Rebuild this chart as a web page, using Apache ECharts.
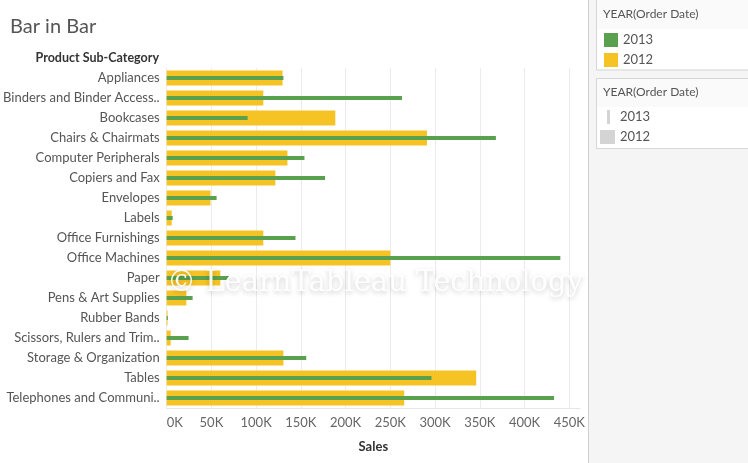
<!DOCTYPE html>
<html>
<head>
<meta charset="utf-8">
<script src="https://cdn.jsdelivr.net/npm/echarts@6/dist/echarts.min.js"></script>
<style>
  html, body { margin: 0; padding: 0; background: #fff; }
  #chart { width: 748px; height: 463px; }
</style>
</head>
<body>
<div id="chart"></div>
<script>
// data
const categories = [
  'Appliances', 'Binders and Binder Access..', 'Bookcases', 'Chairs & Chairmats',
  'Computer Peripherals', 'Copiers and Fax', 'Envelopes', 'Labels',
  'Office Furnishings', 'Office Machines', 'Paper', 'Pens & Art Supplies',
  'Rubber Bands', 'Scissors, Rulers and Trim..', 'Storage & Organization',
  'Tables', 'Telephones and Communi..'
]
const sales2012 = [129500, 108000, 188500, 291000, 135000, 121500, 49000, 5600,
  108000, 250000, 60000, 22000, 1000, 4500, 130500, 346000, 265500]
const sales2013 = [130500, 263000, 90500, 368000, 154000, 177000, 55800, 6700,
  144000, 440000, 70000, 29000, 1300, 24500, 156000, 296000, 433000]
const tickStep = 50000

const FONT = 'Lato'
const GREEN = '#59a14f'
const YELLOW = '#f6c324'

const chart = echarts.init(document.getElementById('chart'))

let option = {
  animation: false,
  textStyle: {fontFamily: FONT},
  title: {
    text: 'Bar in Bar',
    left: 5,
    top: 12,
    textStyle: {fontFamily: FONT, fontSize: 20, fontWeight: 'normal', color: '#555'}
  },
  legend: {
    data: ['2013', '2012'],
    orient: 'vertical',
    left: 599,
    top: 28,
    icon: 'rect',
    itemWidth: 14,
    itemHeight: 14,
    itemGap: 6,
    textStyle: {fontFamily: FONT, fontSize: 13, color: '#555'},
    selectedMode: false
  },
  grid: {left: 166, right: 168, top: 68, bottom: 55, containLabel: false},
  xAxis: {
    type: 'value',
    min: 0,
    max: 462000,
    interval: tickStep,
    name: 'Sales',
    nameLocation: 'middle',
    nameGap: 32,
    nameTextStyle: {fontFamily: FONT, fontSize: 13, fontWeight: 'bold', color: '#333'},
    axisLine: {show: true, lineStyle: {color: '#e6e6e6'}},
    axisTick: {show: false},
    axisLabel: {
      color: '#666',
      fontSize: 13,
      margin: 8,
      showMaxLabel: false,
      alignMinLabel: 'left',
      formatter: v => (v / 1000) + 'K'
    },
    splitLine: {show: true, showMaxLine: false, lineStyle: {color: '#ececec', width: 1}}
  },
  yAxis: [
    {
      type: 'category',
      data: categories,
      inverse: true,
      axisLine: {show: false},
      axisTick: {show: false},
      axisLabel: {color: '#555', fontSize: 13, margin: 7}
    },
    {
      // hidden twin axis so the thin bar sits centred inside the wide one
      type: 'category',
      data: categories,
      inverse: true,
      position: 'left',
      show: false
    }
  ],
  series: [
    {
      name: '2012',
      type: 'bar',
      yAxisIndex: 0,
      data: sales2012,
      barWidth: 15,
      itemStyle: {color: YELLOW},
      z: 2
    },
    {
      name: '2013',
      type: 'bar',
      yAxisIndex: 1,
      data: sales2013,
      barWidth: 4,
      itemStyle: {color: GREEN},
      z: 3
    }
  ],
  graphic: [
    // right panel
    {type: 'rect', left: 588, top: 0, shape: {width: 160, height: 463}, style: {fill: '#f5f5f5'}, z: 0},
    {type: 'line', shape: {x1: 588.5, y1: 0, x2: 588.5, y2: 463}, style: {stroke: '#cfcfcf', lineWidth: 1}, z: 1},
    // colour legend box
    {type: 'rect', shape: {x: 596.5, y: -1, width: 160, height: 71}, style: {fill: '#fafafa', stroke: '#d6d6d6', lineWidth: 1}, z: 1},
    {type: 'rect', shape: {x: 597, y: 29, width: 151, height: 40}, style: {fill: '#fff'}, z: 1},
    {type: 'text', left: 603, top: 8, style: {text: 'YEAR(Order Date)', fill: '#555', font: '12px ' + FONT}, z: 2},
    // size legend box
    {type: 'rect', shape: {x: 596.5, y: 78.5, width: 160, height: 70}, style: {fill: '#fafafa', stroke: '#d6d6d6', lineWidth: 1}, z: 1},
    {type: 'rect', shape: {x: 597, y: 107, width: 151, height: 41}, style: {fill: '#fff'}, z: 1},
    {type: 'text', left: 603, top: 86, style: {text: 'YEAR(Order Date)', fill: '#555', font: '12px ' + FONT}, z: 2},
    {type: 'rect', shape: {x: 607, y: 110, width: 3, height: 14}, style: {fill: '#d4d4d4'}, z: 2},
    {type: 'text', left: 620, top: 110, style: {text: '2013', fill: '#555', font: '13px ' + FONT}, z: 2},
    {type: 'rect', shape: {x: 600, y: 130, width: 15, height: 14}, style: {fill: '#d4d4d4'}, z: 2},
    {type: 'text', left: 620, top: 130, style: {text: '2012', fill: '#555', font: '13px ' + FONT}, z: 2},
    // row header
    {type: 'text', right: 748 - 159, top: 51, style: {text: 'Product Sub-Category', fill: '#333', font: 'bold 12.5px ' + FONT, align: 'right'}, z: 2},
    // watermark
    {
      type: 'text', left: 167, top: 269, z: 10,
      style: {
        text: '\u00a9 LearnTableau Technology',
        fill: 'rgba(255,255,255,0.92)',
        font: '29px "DejaVu Serif"',
        textShadowColor: 'rgba(0,0,0,0.22)',
        textShadowBlur: 5,
        textShadowOffsetY: 2
      }
    }
  ]
}

chart.setOption(option)
</script>
</body>
</html>
